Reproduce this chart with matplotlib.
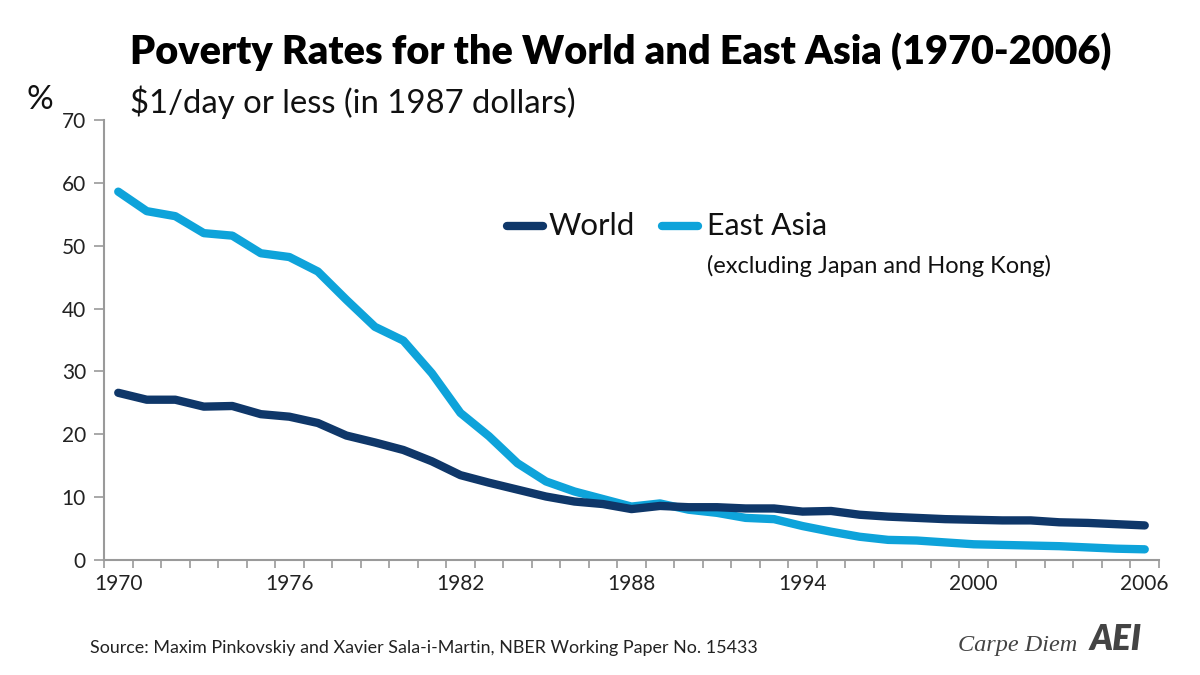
import matplotlib
matplotlib.use("Agg")
import matplotlib.pyplot as plt
import numpy as np

years = list(range(1970, 2007))
world = [26.6, 25.5, 25.5, 24.4, 24.5, 23.2, 22.8, 21.8, 19.8, 18.7,
         17.5, 15.7, 13.5, 12.3, 11.2, 10.1, 9.3, 8.9, 8.1, 8.6,
         8.4, 8.4, 8.2, 8.2, 7.7, 7.8, 7.2, 6.9, 6.7, 6.5,
         6.4, 6.3, 6.3, 6.0, 5.9, 5.7, 5.5]
east_asia = [58.6, 55.5, 54.7, 52.0, 51.6, 48.8, 48.2, 45.9, 41.4, 37.1,
             34.9, 29.7, 23.4, 19.7, 15.4, 12.5, 10.9, 9.7, 8.5, 9.0,
             8.0, 7.5, 6.7, 6.5, 5.4, 4.5, 3.7, 3.2, 3.1, 2.8,
             2.5, 2.4, 2.3, 2.2, 2.0, 1.8, 1.7]
year_labels = [str(y) for y in years[::6]]
yticks = [0, 10, 20, 30, 40, 50, 60, 70]

DARK = "#0f3769"
LIGHT = "#0ea3da"
GREY = "#9a9a9a"

plt.rcParams['font.family'] = ['Lato', 'DejaVu Sans']

fig = plt.figure(figsize=(12, 6.75), dpi=100)
ax = fig.add_axes([104/1200, 1 - 560/675, (1159 - 104)/1200, 440/675])

x = np.arange(len(years))
ax.plot(x, east_asia, color=LIGHT, lw=6, solid_capstyle='round', solid_joinstyle='round')
ax.plot(x, world, color=DARK, lw=6, solid_capstyle='round', solid_joinstyle='round')

ax.set_xlim(-0.5, len(years) - 0.5)
ax.set_ylim(0, 70)
ax.set_yticks(yticks)
ax.set_yticklabels([str(v) for v in yticks], fontsize=15, color="#222222")
ax.set_xticks(x[::6])
ax.set_xticklabels(year_labels, fontsize=15, color="#222222")
ax.set_xticks(np.arange(len(years) + 1) - 0.5, minor=True)
ax.tick_params(axis='x', which='major', length=0, pad=10)
ax.tick_params(axis='x', which='minor', length=6, color=GREY, width=1.2)
ax.tick_params(axis='y', length=7, color=GREY, width=1.2, pad=6)
for s in ['top', 'right']:
    ax.spines[s].set_visible(False)
for s in ['left', 'bottom']:
    ax.spines[s].set_color(GREY)
    ax.spines[s].set_linewidth(1.5)

# legend
fig.add_artist(plt.Line2D([507/1200, 543/1200], [1 - 226/675] * 2, color=DARK, lw=6,
                          solid_capstyle='round'))
fig.text(549/1200, 1 - 226/675, "World", fontsize=22.5, va='center', ha='left', color="#111111")
fig.add_artist(plt.Line2D([662/1200, 698/1200], [1 - 226/675] * 2, color=LIGHT, lw=6,
                          solid_capstyle='round'))
fig.text(707/1200, 1 - 226/675, "East Asia", fontsize=21.8, va='center', ha='left', color="#111111")
fig.text(707/1200, 1 - 266/675, "(excluding Japan and Hong Kong)", fontsize=17,
         va='center', ha='left', color="#111111")

fig.text(130/1200, 1 - 52/675, "Poverty Rates for the World and East Asia (1970-2006)",
         fontsize=28.5, fontweight='heavy', va='center', ha='left', color="#000000")
fig.text(130/1200, 1 - 102/675, "$1/day or less (in 1987 dollars)", fontsize=23.7,
         va='center', ha='left', color="#111111")
fig.text(26/1200, 1 - 100/675, "%", fontsize=24, va='center',
         ha='left', color="#111111")

fig.text(90/1200, 1 - 648/675,
         "Source: Maxim Pinkovskiy and Xavier Sala-i-Martin, NBER Working Paper No. 15433",
         fontsize=12.9, va='center', ha='left', color="#222222")
fig.text(958/1200, 1 - 645/675, "Carpe Diem", fontsize=17.5, family=['Liberation Serif'],
         style='italic', va='center', ha='left', color="#444444")
fig.text(1090/1200, 1 - 640/675, "AEI", fontsize=25, fontweight='heavy', style='italic',
         va='center', ha='left', color="#444444")

fig.savefig("out.png", dpi=100)
